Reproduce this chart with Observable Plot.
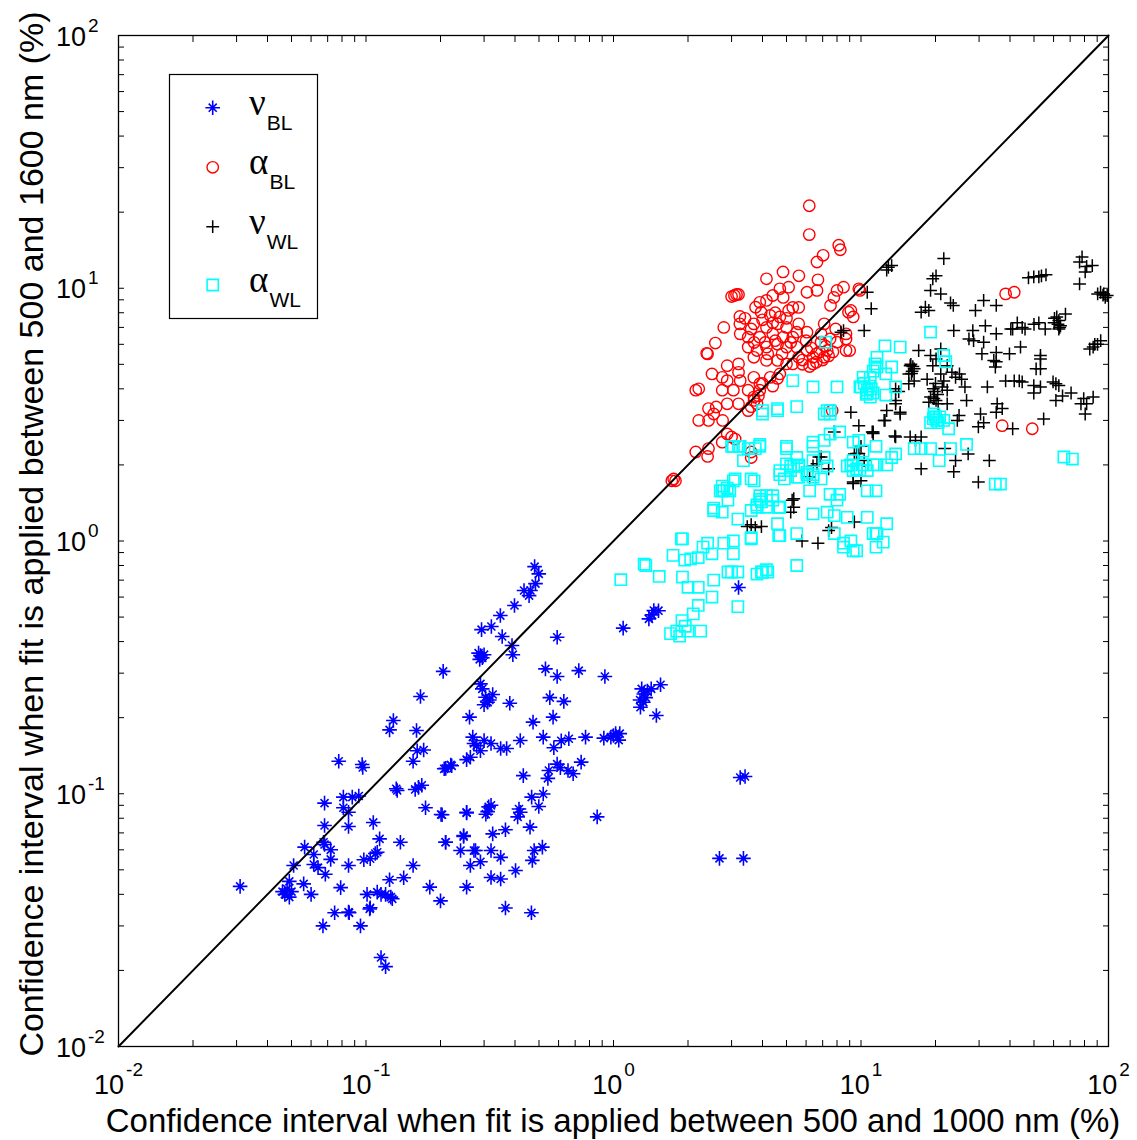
<!DOCTYPE html>
<html>
<head>
<meta charset="utf-8">
<script src="https://cdn.jsdelivr.net/npm/d3@7"></script>
<script src="https://cdn.jsdelivr.net/npm/@observablehq/plot@0.6"></script>
<style>
  body { margin: 0; background: #fff; }
  svg { display: block; }
</style>
</head>
<body>
<div id="chart"></div>
<script>
// ---------------- DATA (x = CI 500–1000 nm %, y = CI 500–1600 nm %) ----------------
const nuBL = [
[0.031,0.043],[0.115,0.0225],[0.12,0.0207],[0.067,0.030],[0.095,0.030],[0.085,0.034],
[0.051,0.052],[0.0565,0.0615],[0.047,0.040],[0.048,0.042],[0.049,0.039],[0.050,0.041],[0.046,0.041],
[0.049,0.045],[0.056,0.044],[0.060,0.040],[0.0615,0.0525],[0.064,0.051],[0.0615,0.0575],[0.0685,0.048],
[0.068,0.063],[0.072,0.060],[0.079,0.0425],[0.085,0.052],[0.0747,0.0338],[0.0855,0.0338],[0.098,0.0548],
[0.109,0.058],[0.1035,0.035],[0.101,0.040],[0.1245,0.0457],[0.111,0.0408],[0.12,0.040],[0.1277,0.0384],
[0.0674,0.0643],[0.072,0.055],[0.068,0.0749],[0.068,0.0918],[0.081,0.097],[0.088,0.097],[0.0935,0.098],
[0.085,0.0845],[0.081,0.088],[0.085,0.0742],[0.107,0.077],[0.1135,0.0663],[0.111,0.0587],[0.104,0.0553],
[0.1377,0.0643],[0.142,0.0465],[0.115,0.040],[0.126,0.039],[0.104,0.0354],[0.155,0.052],[0.174,0.088],
[0.201,0.0828],[0.255,0.084],[0.181,0.0427],[0.2,0.0377],[0.2095,0.0643],[0.248,0.0684],[0.241,0.0596],
[0.277,0.0596],[0.264,0.052],[0.255,0.0427],[0.163,0.106],[0.158,0.104],[0.168,0.108],[0.1337,0.103],
[0.48,0.792],[0.499,0.741],[0.484,0.678],[0.462,0.637],[0.435,0.637],[0.456,0.608],[0.398,0.556],
[0.349,0.507],[0.321,0.459],[0.293,0.446],[0.355,0.419],
[0.29,0.352],[0.285,0.36],[0.295,0.345],[0.30,0.355],[0.288,0.34],
[0.389,0.386],[0.392,0.355],[0.205,0.305],[0.592,0.416],[0.29,0.272],
[0.304,0.241],[0.295,0.26],[0.31,0.23],[0.30,0.225],[0.315,0.235],[0.325,0.247],
[0.531,0.312],[0.592,0.291],[0.724,0.307],[0.923,0.291],[0.381,0.228],[0.553,0.24],[0.63,0.232],
[0.262,0.201],[0.473,0.192],[0.57,0.201],
[1.325,0.248],[1.30,0.26],[1.35,0.24],[1.32,0.23],[1.37,0.255],[1.28,0.235],[1.42,0.26],[1.549,0.27],
[1.285,0.22],[1.49,0.204],[1.094,0.452],[1.455,0.531],[1.39,0.492],[1.52,0.53],[1.43,0.51],
[0.273,0.158],[0.264,0.1395],[0.30,0.1625],[0.32,0.158],[0.35,0.151],[0.37,0.151],[0.42,0.1625],
[0.21,0.126],[0.222,0.129],[0.27,0.1675],[0.28,0.155],[0.29,0.148],
[0.52,0.1675],[0.574,0.152],[0.615,0.162],[0.66,0.165],[0.771,0.1675],[0.914,0.166],[1.02,0.173],
[1.06,0.173],[0.976,0.1675],[1.05,0.163],[1.0,0.17],
[0.548,0.1236],[0.592,0.131],[0.61,0.1268],[0.687,0.12],[0.74,0.1334],[0.655,0.1236],[0.432,0.118],
[0.543,0.115],[0.467,0.097],[0.52,0.0998],[0.499,0.089],[0.859,0.081],
[0.313,0.0887],[0.31,0.085],[0.32,0.09],[0.305,0.083],[0.255,0.0845],[0.203,0.0826],[0.42,0.0845],
[0.41,0.081],[0.415,0.087],[0.46,0.0738],[0.366,0.072],[0.325,0.0694],[0.248,0.0677],[0.21,0.0643],
[0.273,0.0596],[0.32,0.0596],[0.35,0.056],[0.478,0.0596],[0.516,0.0615],[0.29,0.0538],
[0.402,0.0497],[0.47,0.0545],[0.32,0.0466],[0.35,0.046],[0.466,0.0338],[0.366,0.0353],
[2.68,0.0555],[3.35,0.0555],[3.25,0.116],[3.4,0.117],[3.2,0.655],
[0.166,0.2425],[0.129,0.195],[0.1245,0.179],[0.16,0.178],[0.161,0.148],[0.171,0.149],[0.155,0.1345],
[0.0776,0.1345],[0.0965,0.1305],[0.097,0.127],[0.207,0.1255],[0.22,0.13],[0.255,0.1365],[0.1325,0.1047]
];

const alphaBL = [
[6.18,21.2],[6.18,16.3],[8.13,14.8],[8.25,14.2],[7.03,13.5],[6.64,12.7],[4.84,11.6],[5.61,11.2],[4.15,10.9],[6.7,10.8],
[3.08,9.36],[3.14,9.45],[3.2,9.45],[3.0,9.27],[4.7,9.95],[5.1,10.1],[4.4,9.36],[4.85,9.2],[6.05,9.64],[6.64,9.8],
[7.77,9.2],[8.5,10.1],[8.0,9.8],[9.8,9.95],[7.53,8.55],[9.1,8.17],[3.75,8.41],[3.95,8.04],[4.15,8.95],[3.24,7.73],
[3.24,7.23],[2.79,7.0],[2.58,6.07],[2.38,5.53],[4.7,7.7],[5.3,8.4],[5.6,8.4],[5.1,8.17],[3.69,7.23],[4.15,7.0],
[4.6,7.23],[5.0,7.0],[5.6,7.23],[6.05,6.7],[3.25,6.6],[3.5,6.4],[3.9,6.4],[4.4,6.6],[4.85,6.4],[5.3,6.4],
[7.1,7.23],[7.9,6.9],[8.7,6.6],[8.9,8.04],[9.3,7.7],[6.9,6.12],[6.9,6.6],[8.0,6.12],[8.7,5.67],
[3.5,5.85],[3.8,5.67],[4.15,5.85],[4.6,6.0],[5.0,5.85],[5.5,5.85],[6.05,5.67],[6.4,5.33],
[3.69,5.33],[4.15,5.18],[4.6,5.18],[5.0,5.02],[5.6,5.33],[6.4,5.02],[7.1,5.33],[7.3,5.67],
[2.4,5.5],[2.88,4.94],[3.2,5.02],[3.2,4.65],[2.75,4.44],[2.5,4.58],[2.88,4.31],[3.25,4.31],[3.69,4.44],
[3.9,4.19],[4.3,4.44],[4.7,4.58],[5.3,5.02],
[2.21,4.0],[2.15,3.95],[2.75,3.95],[3.05,3.95],[3.5,3.95],[3.69,3.71],[3.9,3.95],[3.2,3.49],[3.8,3.49],[3.5,3.28],
[2.42,3.34],[2.54,3.18],[2.21,3.0],[2.42,3.0],[2.76,3.0],[2.6,3.39],[2.88,3.49],
[2.88,2.65],[3.0,2.58],[3.1,2.53],[2.75,2.46],[2.42,2.32],[2.15,2.25],[2.4,2.16],[3.6,2.25],[3.6,2.14],
[1.75,1.76],[1.78,1.73],[1.72,1.73],
[7.65,3.28],[38.4,9.5],[41.6,9.64],[37.2,2.86],[49.2,2.78],[8.7,6.3],[9.0,5.67],[9.9,9.8],
[4.0,7.5],[4.3,7.8],[3.6,6.9],[4.5,6.2],[4.1,6.1],[3.7,6.1],[4.2,5.5],[4.8,5.5],[5.2,6.1],[4.4,7.3],
[3.4,7.6],[3.9,8.8],[4.5,8.0],[5.0,7.6],[5.5,6.7],[6.0,6.2],[6.3,5.8],[6.6,5.5],[5.8,5.2],[6.8,5.6],
[7.2,5.9],[7.5,6.3],[5.8,5.0],[6.2,4.9],[6.6,5.1],[7.0,5.2],[7.4,5.4],[7.7,5.6],[4.0,4.2],[4.4,4.1],
[4.6,4.4],[3.7,3.6],[3.6,3.4],[3.85,3.75]
];

const nuWL = [
[78.2,13.3],[76.4,12.7],[81.6,12.2],[86,12.3],[80.5,11.6],[76.4,10.4],
[47.5,11.0],[49.9,11.1],[52.3,11.1],[53.6,11.2],[55.9,11.3],
[90.4,9.5],[92.9,9.64],[95.7,9.5],[98.8,9.36],[95,9.4],[97,9.2],
[61.8,7.7],[67,7.9],[60.3,7.3],[63,7.45],[64,7.1],[63,6.9],[60.5,7.6],[62.5,7.2],[63.5,7.0],
[84,5.75],[86.7,5.85],[90.3,6.0],[93,6.2],[88,6.0],
[53.1,5.42],[53.1,5.25],[42.8,7.3],[44.8,7.0],[40.3,6.9],[52.3,7.3],[55.5,6.9],
[44.1,5.85],[39.8,5.5],[35.2,5.57],[34.4,5.18],[34.9,4.88],[35.2,5.12],[30.8,5.5],[31.3,6.12],[28.5,6.2],
[27.3,6.3],[28.3,6.8],[31.8,7.1],[35.2,6.6],[41.0,6.9],[46.0,6.9],[50,7.2],
[31.3,8.95],[35.2,8.55],[29.0,8.17],
[23.7,6.8],[21.6,13.1],[20.1,11.2],[19.5,10.9],[19.1,9.8],[21,9.5],[23,8.75],[23.6,8.55],[18.2,8.41],
[18.8,8.17],[17.5,8.04],[12.9,12.1],[12.7,11.8],[13.3,12.3],[10.6,9.64],[11,8.3],[10.3,6.8],[8.5,6.8],[8.3,6.7],
[17.1,5.67],[19.1,5.42],[21,5.75],[20.1,5.25],[19.5,4.94],[15.8,4.94],[16.1,4.7],[16.4,4.8],[15.6,4.58],
[13.8,4.0],[14.2,3.9],[13.8,3.6],[13.8,3.49],[16.4,4.3],[15.6,4.19],[15.9,5.0],[16.2,4.9],[16.0,4.6],
[18.5,4.36],[21,4.58],[21.6,4.3],[21.3,4.07],[22.3,3.95],[24.1,4.44],[25.5,4.36],[26.3,4.07],[26.7,3.6],
[19.1,3.71],[19.7,3.66],[20.1,3.6],[20.5,3.49],[18.8,3.54],[22.3,3.49],[24.9,3.14],[24.5,3.0],
[20.0,4.2],[19.6,4.0],[19.8,3.9],[20.4,3.8],
[32.4,4.07],[35.5,3.49],[37.2,3.34],[35.2,3.23],[30.4,3.18],[31.3,2.94],[29.8,2.83],[41.0,2.78],
[33.0,2.08],[27.1,2.21],[29.8,1.71],
[38.4,4.3],[41.6,4.3],[43.6,4.3],[44.8,4.26],[49.9,4.12],[53.1,4.07],[49.9,3.85],[53.1,4.8],[51,4.8],
[61.3,4.19],[63,4.12],[59.7,4.26],[65.2,3.75],[70.6,3.85],[61.3,3.6],[54.7,3.04],[79.4,3.66],[81.6,3.49],
[86.7,3.71],[80.5,3.18],[77.4,3.49],
[12.4,3.0],[14.4,3.23],[12.7,3.28],[9.1,3.23],[9.8,2.86],[11.2,2.7],[13.7,2.6],[15.8,2.58],[16.6,2.5],
[17.5,2.58],[21.8,2.32],[17.5,1.93],[24.1,2.08],[23.7,1.88],[9.3,1.71],[9.8,2.22],
[22.3,4.94],[23.3,4.65],[25,4.58],
[12.5,3.0],[11.2,2.66],[14.4,3.18],[13.8,2.58],[6.76,2.15],[6.64,2.02],[6.4,1.98],[7.4,1.93],[6.2,1.79],
[9.6,2.22],[10.3,2.08],[10,1.73],[9.3,1.69],[5.27,1.45],[5.35,1.36],[5.2,1.3],[3.47,1.14],[3.96,1.14],
[3.74,1.13],[7.6,1.13],[7.4,1.10],[9.4,1.19],[5.78,1.0],[6.7,0.98],[7.8,2.7],[5.35,1.47],[3.6,1.16],
[9.4,2.21],[10.0,2.37],[6.9,2.15],[11.1,2.7]
];

const alphaWL = [
[1.07,0.703],[1.35,0.8],[1.53,0.724],[1.74,0.877],[1.9,1.02],[1.94,0.84],[2.05,0.85],[2.2,0.86],[2.3,0.946],
[2.4,0.98],[2.5,0.89],[2.79,0.98],[3.05,1.0],[3.05,0.89],[3.0,0.754],[2.9,0.754],[3.18,0.754],[3.96,0.754],
[4.15,0.77],[3.8,0.74],[4.0,0.754],[4.2,0.754],[5.5,0.8],[2.54,0.70],[2.0,0.656],[2.2,0.656],[2.5,0.6],
[2.2,0.556],[3.18,0.55],[2.1,0.515],[1.89,0.484],[2.0,0.44],[1.7,0.43],[2.25,0.44],[1.8,0.44],[1.9,0.72],
[1.95,0.46],[1.85,0.42],
[2.54,1.32],[2.9,1.45],[2.79,1.58],[2.95,1.58],[2.75,1.58],[3.1,1.76],[3.6,1.76],[3.18,1.22],[3.6,1.32],
[3.8,1.39],[3.96,1.43],[4.15,1.36],[4.4,1.51],[3.9,1.51],[4.65,1.36],[4.6,1.17],[4.65,1.05],[3.6,1.02],
[5.19,1.9],[4.9,1.76],[5.6,1.98],[5.0,2.37],[6.4,2.08],[6.05,1.83],[7.3,1.98],[6.2,1.58],[6.4,1.28],
[7.3,1.3],[8.8,1.24],[10.6,1.24],[7.5,1.53],[8.2,1.53],[8.8,1.98],[9.3,1.9],[9.9,1.9],[11.2,2.0],
[11.5,1.58],[7.8,1.07],[9.1,1.0],[9.3,0.915],[8.5,0.98],[6.9,1.76],[11.5,1.07],
[3.74,2.32],[3.05,2.37],[3.35,2.08],
[1.88,1.02],[1.33,0.81],[2.88,1.62],[2.7,1.58],[2.54,1.35],[2.75,1.3],[3.8,1.36],[3.9,1.46],[4.15,1.51],
[4.4,1.45],[4.7,1.36],[3.6,1.03],[4.7,1.05],
[4.7,1.9],[5.0,2.02],[5.35,1.98],[5.6,2.0],[5.6,1.79],[6.05,1.87],[6.4,1.79],[4.0,3.28],[5.5,3.4],[4.6,3.34],
[3.9,2.41],[3.2,2.37],[3.5,2.32],[6.4,2.46],[7.5,3.18],[7.5,2.65],[9.3,2.08],[9.1,2.0],[9.6,1.93],[10.2,2.0],
[10.6,1.9],[11.6,2.0],[12.7,2.0],[13.8,2.21],[11.5,2.37],[9.3,2.46],[9.8,2.5],[8.0,1.45],[10.6,1.58],
[7.8,1.26],[9.6,0.915],[8.5,0.945],[11.5,0.945],[12.3,0.99],[11.6,1.07],[12.7,1.17],[11.2,1.07],[5.5,1.07],
[7.2,6.12],[5.3,4.31],[6.4,4.07],[8.0,4.07],[10.0,4.07],[10.6,3.95],[11.2,3.85],[10.9,4.44],[11.4,5.02],
[11.2,4.7],[4.6,3.28],[4.0,3.18],[7.1,3.18],[7.5,3.28],[3.25,2.37],[3.0,2.37],[3.9,2.37],[5.0,2.32],
[5.5,2.14],[6.4,2.37],[7.1,2.14],[10.2,2.27],[5.2,1.98],[4.7,1.83],[5.5,1.79],[6.4,1.83],[3.05,1.73],
[3.7,1.73],[2.75,1.65],
[19.1,6.7],[21.6,5.42],[22,5.12],[12.5,5.92],[14.4,5.85],[11.6,5.33],[13.3,4.88],[11.6,4.88],[12.6,4.58],
[10.2,4.44],[9.9,4.07],[10.9,3.71],[10.6,3.85],[12.6,3.78],[13.8,4.07],[19.7,3.18],[20.5,2.94],[21.6,3.0],
[19.1,2.94],[22.6,2.78],[16.4,2.32],[17.5,2.32],[19.1,2.32],[23.0,2.32],[26.7,2.41],[20.7,2.08],[66,2.15],
[71.5,2.11],[34.9,1.68],[36.6,1.68],[7.3,3.28],[13.3,2.14],[8.2,2.7],[7.1,2.5],
[10.3,4.2],[10.8,4.1],[11.0,4.0],[10.5,3.8],[20,3.1],[20.2,3.0],[19.6,3.05],[20.8,3.1]
];

const identityLine = [0.01, 100];
const majorTicks = [0.01, 0.1, 1, 10, 100];
const minorTicks = [0.02,0.03,0.04,0.05,0.06,0.07,0.08,0.09,0.2,0.3,0.4,0.5,0.6,0.7,0.8,0.9,
                    2,3,4,5,6,7,8,9,20,30,40,50,60,70,80,90];
const tickLabels = ["10^-2", "10^-1", "10^0", "10^1", "10^2"];
const xLabel = "Confidence interval when fit is applied between 500 and 1000 nm (%)";
const yLabel = "Confidence interval when fit is applied between 500 and 1600 nm (%)";
const legendSymbols = ["ν", "α", "ν", "α"];
const legendSubs = ["BL", "BL", "WL", "WL"];
const seriesColors = ["#0000ff", "#ff0000", "#000000", "#00ffff"];

// ---------------- MARKER SHAPES (MATLAB-like) ----------------
const symAsterisk = { draw(ctx, size) {
  const r = Math.sqrt(size / Math.PI), d = r * 0.55;
  ctx.moveTo(-r, 0); ctx.lineTo(r, 0); ctx.moveTo(0, -r); ctx.lineTo(0, r);
  ctx.moveTo(-d, -d); ctx.lineTo(d, d); ctx.moveTo(-d, d); ctx.lineTo(d, -d);
}};
const symCircle = { draw(ctx, size) {
  const r = Math.sqrt(size / Math.PI);
  ctx.moveTo(r, 0); ctx.arc(0, 0, r, 0, 2 * Math.PI);
}};
const symPlus = { draw(ctx, size) {
  const r = Math.sqrt(size / Math.PI);
  ctx.moveTo(-r, 0); ctx.lineTo(r, 0); ctx.moveTo(0, -r); ctx.lineTo(0, r);
}};
const symSquare = { draw(ctx, size) {
  const r = Math.sqrt(size / Math.PI);
  ctx.moveTo(-r, -r); ctx.lineTo(r, -r); ctx.lineTo(r, r); ctx.lineTo(-r, r); ctx.closePath();
}};
const seriesSymbols = [symAsterisk, symCircle, symPlus, symSquare];
const seriesR = [7.3, 5.7, 6.4, 5.6];
const seriesSW = [1.6, 1.4, 1.5, 1.6];

const FONT = "'Liberation Sans', Arial, Helvetica, sans-serif";
const W = 1137, H = 1140;
const ML = 118, MR = 29, MT = 35, MB = 94;
const allTicks = majorTicks.concat(minorTicks);
const fmt = d => tickLabels[Math.round(Math.log10(d)) + 2];

const series = [nuBL, alphaBL, nuWL, alphaWL];
const dotMarks = series.map((s, i) => Plot.dot(s, {
  x: d => d[0], y: d => d[1],
  symbol: seriesSymbols[i], r: seriesR[i],
  stroke: seriesColors[i], fill: "none", strokeWidth: seriesSW[i]
}));

const plot = Plot.plot({
  width: W, height: H,
  marginLeft: ML, marginRight: MR, marginTop: MT, marginBottom: MB,
  style: { fontFamily: FONT, background: "#fff", color: "#000", overflow: "visible" },
  x: { type: "log", domain: [0.01, 100] },
  y: { type: "log", domain: [0.01, 100] },
  marks: [
    ...dotMarks,
    Plot.line(identityLine, { x: d => d, y: d => d, stroke: "#000", strokeWidth: 2 }),
    Plot.axisX(allTicks, { anchor: "bottom", tickSize: -6, tickFormat: () => "", label: null }),
    Plot.axisX(allTicks, { anchor: "top", tickSize: -6, tickFormat: () => "", label: null }),
    Plot.axisY(allTicks, { anchor: "left", tickSize: -6, tickFormat: () => "", label: null }),
    Plot.axisY(allTicks, { anchor: "right", tickSize: -6, tickFormat: () => "", label: null }),
    Plot.axisX(majorTicks, { anchor: "bottom", tickSize: 0, tickPadding: 47.5, lineAnchor: "bottom",
                             fontSize: 27, tickFormat: fmt, label: null }),
    Plot.axisY(majorTicks, { anchor: "left", tickSize: 0, tickPadding: 62.5, textAnchor: "start",
                             lineAnchor: "middle", dy: 1.5, fontSize: 27, tickFormat: fmt, label: null }),
    Plot.frame({ stroke: "#000", strokeWidth: 1.3 })
  ]
});

document.getElementById("chart").appendChild(plot);
const svg = d3.select(plot);

// superscript exponents on tick labels
svg.selectAll("text").each(function () {
  const t = this.textContent;
  if (!t || t.indexOf("^") < 0) return;
  const isX = this.closest('g[aria-label="x-axis tick label"]') !== null;
  const [base, exp] = t.split("^");
  const sel = d3.select(this);
  sel.text(null);
  sel.append("tspan").text(base);
  sel.append("tspan").attr("dx", 2).attr("dy", isX ? -18 : -14).attr("font-size", 19).text(exp);
});

// axis titles
svg.append("text").attr("x", 613).attr("y", 1132).attr("text-anchor", "middle")
  .attr("font-family", FONT).attr("font-size", 33).attr("fill", "#000").text(xLabel);
svg.append("text").attr("transform", "translate(43,534) rotate(-90)").attr("text-anchor", "middle")
  .attr("font-family", FONT).attr("font-size", 34).attr("fill", "#000").text(yLabel);

// legend
const lg = svg.append("g").attr("aria-label", "legend");
lg.append("rect").attr("x", 169.5).attr("y", 74.5).attr("width", 148).attr("height", 244)
  .attr("fill", "#fff").attr("stroke", "#000").attr("stroke-width", 1.2);
const legendY = [107.7, 167.3, 226.7, 285];
legendSymbols.forEach((g, i) => {
  const p = d3.path();
  seriesSymbols[i].draw(p, Math.PI * seriesR[i] * seriesR[i]);
  lg.append("path").attr("d", p.toString())
    .attr("transform", `translate(212.7,${legendY[i]})`)
    .attr("fill", "none").attr("stroke", seriesColors[i]).attr("stroke-width", seriesSW[i]);
  const t = lg.append("text").attr("x", 249).attr("y", legendY[i] + 7).attr("text-anchor", "start")
    .attr("font-family", "'Liberation Serif', 'DejaVu Serif', serif").attr("font-size", 37).attr("fill", "#000");
  t.append("tspan").text(g);
  t.append("tspan").attr("dx", 1).attr("dy", 15).attr("font-family", FONT).attr("font-size", 21).text(legendSubs[i]);
});
</script>
</body>
</html>
